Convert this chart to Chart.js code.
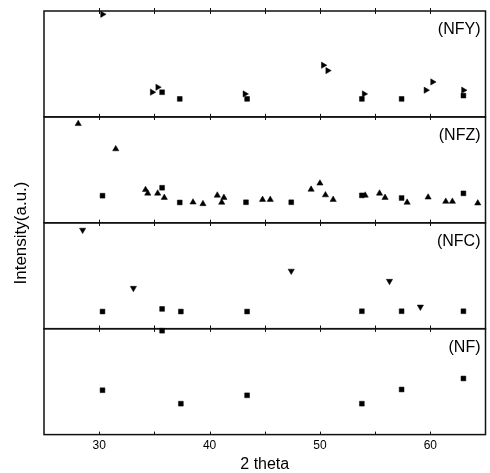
<!DOCTYPE html>
<html><head><meta charset="utf-8">
<script src="https://cdn.jsdelivr.net/npm/chart.js@4"></script>
<style>html,body{margin:0;padding:0;background:#fff}</style>
</head><body>
<canvas id="c" width="490" height="473"></canvas>
<script>
// ---- data (2 theta positions, relative intensity 0-100 within each panel) ----
const nfyRectX = [35.7, 37.3, 43.4, 53.8, 57.4, 63.0];
const nfyRectY = [23.3, 17.0, 17.0, 17.0, 17.0, 20.1];
const nfyTriX  = [30.3, 34.8, 35.3, 43.2, 50.3, 50.7, 54.0, 59.6, 60.2, 63.0];
const nfyTriY  = [96.9, 23.3, 28.0, 21.7, 48.8, 43.7, 21.7, 25.2, 33.0, 25.2];

const nfzRectX = [30.3, 35.7, 37.3, 43.3, 47.4, 53.8, 57.4, 63.0];
const nfzRectY = [25.6, 33.1, 19.2, 19.4, 19.4, 25.9, 23.4, 27.8];
const nfzTriX  = [28.1, 31.5, 34.2, 34.4, 35.3, 35.9, 38.5, 39.4, 40.7, 41.1, 41.3, 44.8, 45.5, 49.2, 50.0, 50.5, 51.2, 54.1, 55.4, 55.9, 57.9, 59.8, 61.4, 62.0, 64.3];
const nfzTriY  = [93.5, 69.7, 31.2, 27.8, 27.8, 23.8, 19.4, 17.9, 25.9, 19.2, 23.8, 21.9, 21.9, 31.5, 37.3, 26.2, 21.9, 25.9, 27.8, 23.8, 19.2, 24.1, 20.1, 20.1, 18.5];

const nfcRectX = [30.3, 35.7, 37.4, 43.4, 53.8, 57.4, 63.0];
const nfcRectY = [16.2, 18.7, 16.2, 16.2, 16.5, 16.5, 16.5];
const nfcTriX  = [28.5, 33.1, 47.4, 56.3, 59.1];
const nfcTriY  = [93.2, 38.3, 54.5, 44.9, 20.6];

const nfRectX = [30.3, 35.7, 37.4, 43.4, 53.8, 57.4, 63.0];
const nfRectY = [41.9, 98.1, 29.2, 37.1, 29.2, 42.6, 53.0];

const panelNames = ['(NF)', '(NFC)', '(NFZ)', '(NFY)'];   // bottom to top
const panelAxes  = ['yNF', 'yNFC', 'yNFZ', 'yNFY'];
const xLabelTicks = [30, 40, 50, 60];
const xTitle = '2 theta';
const yTitle = 'Intensity(a.u.)';

// ---- build ----
const FONT = '"Liberation Sans", Arial, sans-serif';
function pts(xs, ys) { return xs.map((x, i) => ({x: x, y: ys[i]})); }
function ds(xs, ys, axis, style, rot) {
  return {
    data: pts(xs, ys), yAxisID: axis, pointStyle: style, pointRotation: rot || 0,
    pointRadius: style === 'rect' ? 3.4 : 3.6, pointBackgroundColor: '#000', pointBorderColor: '#000',
    pointBorderWidth: 0.5, showLine: false, clip: false
  };
}
const datasets = [
  ds(nfyRectX, nfyRectY, 'yNFY', 'rect'),
  ds(nfyTriX, nfyTriY, 'yNFY', 'triangle', 90),
  ds(nfzRectX, nfzRectY, 'yNFZ', 'rect'),
  ds(nfzTriX, nfzTriY, 'yNFZ', 'triangle', 0),
  ds(nfcRectX, nfcRectY, 'yNFC', 'rect'),
  ds(nfcTriX, nfcTriY, 'yNFC', 'triangle', 180),
  ds(nfRectX, nfRectY, 'yNF', 'rect')
];

const yScale = () => ({
  type: 'linear', position: 'left', stack: 'panels', stackWeight: 1, min: 0, max: 100,
  ticks: {display: false}, grid: {display: false}, border: {display: false},
  afterFit: s => { s.width = 0; }
});
const scales = {
  x: {
    type: 'linear', min: 25, max: 65,
    ticks: {stepSize: 5, padding: 4, color: '#000', font: {family: FONT, size: 12},
      callback: v => xLabelTicks.includes(v) ? String(v) : ''},
    grid: {display: false, drawTicks: false}, border: {display: false},
    title: {display: true, text: xTitle, color: '#000', padding: {top: 0, bottom: 0},
      font: {family: FONT, size: 16, lineHeight: 1.0}}
  }
};
panelAxes.forEach(id => { scales[id] = yScale(); });

const panelPlugin = {
  id: 'panels',
  beforeDatasetsDraw(chart) {
    const {ctx, chartArea, scales: sc} = chart;
    const xs = sc.x;
    const tickVals = xs.ticks.map(t => t.value).filter(v => v > xs.min && v < xs.max);
    ctx.save();
    ctx.strokeStyle = '#111';
    ctx.lineWidth = 1;
    panelAxes.forEach(id => {
      const s = sc[id];
      ctx.beginPath();
      tickVals.forEach(v => {
        const px = Math.round(xs.getPixelForValue(v)) + 0.5;
        ctx.moveTo(px, s.top - 3); ctx.lineTo(px, s.top + 3);
        ctx.moveTo(px, s.bottom - 3); ctx.lineTo(px, s.bottom + (id === 'yNF' ? 0 : 3));
      });
      ctx.stroke();
    });
    ctx.lineWidth = 1.5;
    panelAxes.forEach(id => {
      const s = sc[id];
      ctx.strokeRect(chartArea.left, s.top, chartArea.right - chartArea.left, s.bottom - s.top);
    });
    ctx.fillStyle = '#000';
    ctx.font = '16px ' + FONT;
    ctx.textAlign = 'right';
    ctx.textBaseline = 'middle';
    panelAxes.forEach((id, i) => {
      const s = sc[id];
      ctx.fillText(panelNames[i], chartArea.right - 5, s.top + 19);
    });
    // y axis title
    ctx.translate(21, 233);
    ctx.rotate(-Math.PI / 2);
    ctx.textAlign = 'center';
    ctx.font = '17px ' + FONT;
    ctx.fillText(yTitle, 0, 0);
    ctx.restore();
  }
};

new Chart(document.getElementById('c'), {
  type: 'scatter',
  data: {datasets},
  options: {
    responsive: false, animation: false, devicePixelRatio: 1,
    layout: {padding: {left: 44, right: 2, top: 11, bottom: 0}},
    plugins: {legend: {display: false}, tooltip: {enabled: false}},
    scales
  },
  plugins: [panelPlugin]
});
</script>
</body></html>
